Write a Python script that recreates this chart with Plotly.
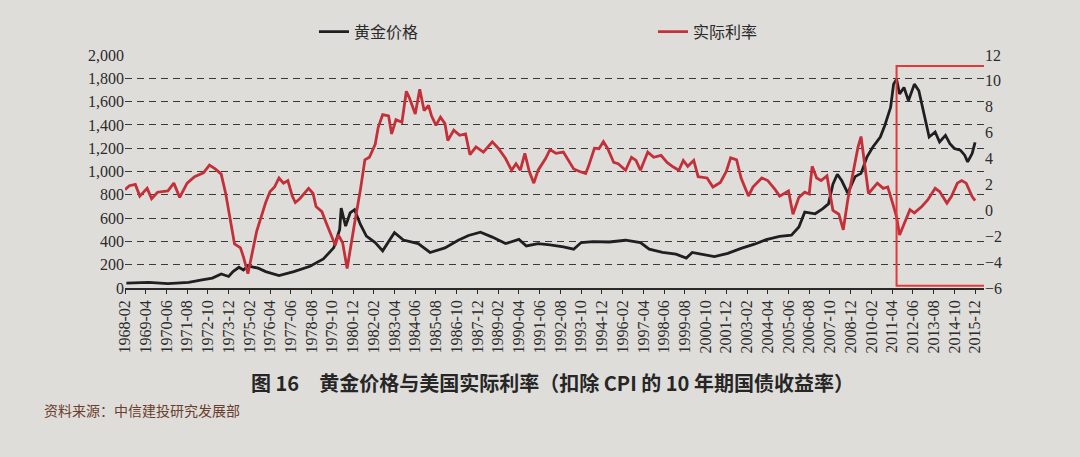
import plotly.graph_objects as go

# ---- data ----
gold_dates = ["1968-03","1969-06","1970-07","1971-09","1972-06","1973-01","1973-07","1973-12","1974-03","1974-07",
              "1974-10","1975-01","1975-08","1976-01","1976-10","1977-08","1978-07","1979-04","1979-11","1980-03",
              "1980-04","1980-07","1980-10","1981-01","1981-05","1981-09","1982-03","1982-08","1983-01","1983-04",
              "1983-10","1984-08","1985-04","1986-02","1986-11","1987-06","1988-02","1988-10","1989-07","1990-04",
              "1990-09","1991-05","1992-01","1992-10","1993-05","1993-10","1994-06","1995-05","1996-04","1997-02",
              "1997-08","1998-05","1999-02","1999-09","2000-01","2000-06","2001-04","2002-01","2002-10","2003-07",
              "2004-03","2004-12","2005-08","2006-01","2006-05","2006-12","2007-05","2007-09","2007-12","2008-03",
              "2008-06","2008-10","2009-03","2009-07","2009-11","2010-03","2010-08","2010-11","2011-03","2011-05",
              "2011-07","2011-09","2011-12","2012-03","2012-07","2012-10","2013-02","2013-05","2013-09","2013-12",
              "2014-04","2014-07","2014-10","2015-02","2015-05","2015-07","2015-10","2015-12"]
gold_price = [42, 48, 37, 48, 70, 85, 121, 99, 141, 178,
              155, 189, 170, 141, 107, 141, 186, 249, 347, 503,
              686, 531, 644, 672, 545, 446, 390, 319, 418, 475,
              412, 381, 305, 344, 409, 451, 479, 437, 381, 417,
              361, 381, 370, 353, 333, 390, 398, 395, 410, 390,
              333, 305, 291, 257, 305, 291, 269, 297, 340, 376,
              416, 444, 453, 524, 651, 637, 679, 722, 891, 976,
              920, 814, 956, 984, 1126, 1211, 1296, 1395, 1551, 1750,
              1792, 1665, 1721, 1608, 1750, 1693, 1466, 1296, 1339, 1253,
              1310, 1239, 1197, 1183, 1140, 1083, 1154, 1250]

rate_dates = ["1968-02","1968-05","1968-09","1968-12","1969-05","1969-08","1969-12","1970-07","1970-11","1971-03",
              "1971-08","1972-01","1972-07","1972-11","1973-03","1973-07","1973-10","1974-01","1974-04","1974-08",
              "1974-10","1975-01","1975-05","1975-07","1975-10","1976-01","1976-04","1976-07","1976-10","1977-01",
              "1977-04","1977-07","1977-09","1977-12","1978-06","1978-09","1978-11","1979-03","1979-06","1979-10",
              "1979-12","1980-02","1980-05","1980-08","1980-10","1981-01","1981-05","1981-08","1981-11","1982-03",
              "1982-05","1982-08","1982-12","1983-02","1983-05","1983-09","1983-12","1984-02","1984-06","1984-09",
              "1984-12","1985-03","1985-05","1985-08","1985-11","1986-02","1986-04","1986-08","1986-12","1987-04",
              "1987-07","1987-11","1988-04","1988-10","1989-02","1989-07","1989-11","1990-02","1990-05","1990-08",
              "1990-11","1991-02","1991-05","1991-10","1992-01","1992-05","1992-10","1993-01","1993-05","1993-09",
              "1994-01","1994-03","1994-07","1994-10","1995-01","1995-04","1995-08","1995-11","1996-04","1996-08",
              "1996-11","1997-02","1997-07","1997-11","1998-04","1998-08","1998-12","1999-04","1999-07","1999-10",
              "2000-02","2000-05","2000-11","2001-03","2001-08","2001-12","2002-03","2002-07","2002-10","2003-03",
              "2003-06","2003-12","2004-04","2004-09","2004-12","2005-06","2005-09","2006-01","2006-05","2006-08",
              "2006-10","2007-01","2007-04","2007-08","2007-10","2007-12","2008-04","2008-07","2008-10","2009-02",
              "2009-05","2009-07","2009-09","2009-12","2010-03","2010-06","2010-10","2011-01","2011-05","2011-07",
              "2011-09","2011-12","2012-04","2012-07","2012-12","2013-04","2013-09","2013-12","2014-05","2014-08",
              "2014-12","2015-03","2015-06","2015-10","2015-12"]
real_rate = [1.6, 1.9, 2.0, 1.1, 1.7, 0.9, 1.4, 1.5, 2.1, 1.0,
             2.1, 2.6, 2.9, 3.5, 3.2, 2.8, 1.3, -0.8, -2.6, -2.9,
             -3.6, -4.9, -2.8, -1.6, -0.5, 0.6, 1.45, 1.8, 2.5, 2.1,
             2.3, 1.1, 0.6, 0.9, 1.7, 1.3, 0.3, -0.1, -1.0, -2.1,
             -2.7, -1.9, -2.5, -4.5, -3.0, -1.0, 1.6, 3.9, 4.1, 5.1,
             6.4, 7.4, 7.3, 5.9, 7.0, 6.8, 9.2, 8.7, 7.45, 9.35,
             7.7, 8.1, 7.3, 6.56, 7.2, 6.7, 5.4, 6.2, 5.8, 5.9,
             4.3, 4.9, 4.5, 5.3, 4.8, 4.0, 3.1, 3.6, 3.1, 4.4,
             3.0, 2.1, 3.1, 4.0, 4.7, 4.4, 4.5, 3.9, 3.2, 3.0,
             2.85, 3.4, 4.8, 4.76, 5.3, 4.76, 3.7, 3.6, 3.1, 4.1,
             3.86, 3.1, 4.5, 4.1, 4.25, 3.7, 3.36, 3.1, 3.86, 3.4,
             3.86, 2.6, 2.5, 1.8, 2.15, 3.0, 4.06, 3.9, 2.5, 1.1,
             1.8, 2.5, 2.3, 1.6, 1.1, 1.5, -0.3, 1.0, 1.4, 1.26,
             3.4, 2.5, 2.3, 2.66, 1.26, 0.0, -0.3, -1.5, 0.8, 3.1,
             4.9, 5.7, 3.9, 1.3, 1.7, 2.1, 1.7, 1.8, 0.3, -0.5,
             -1.9, -1.1, 0.05, -0.2, 0.3, 0.8, 1.7, 1.45, 0.56, 1.07,
             2.1, 2.3, 2.1, 1.07, 0.75]

tick_labels = ["1968-02","1969-04","1970-06","1971-08","1972-10","1973-12","1975-02","1976-04","1977-06","1978-08",
               "1979-10","1980-12","1982-02","1983-04","1984-06","1985-08","1986-10","1987-12","1989-02","1990-04",
               "1991-06","1992-08","1993-10","1994-12","1996-02","1997-04","1998-06","1999-08","2000-10","2001-12",
               "2003-02","2004-04","2005-06","2006-08","2007-10","2008-12","2010-02","2011-04","2012-06","2013-08",
               "2014-10","2015-12"]
left_ticks = [0, 200, 400, 600, 800, 1000, 1200, 1400, 1600, 1800, 2000]
left_tick_text = ["0", "200", "400", "600", "800", "1,000", "1,200", "1,400", "1,600", "1,800", "2,000"]
right_ticks = [-6, -4, -2, 0, 2, 4, 6, 8, 10, 12]

series_names = ["黄金价格", "实际利率"]
caption = "图 16　黄金价格与美国实际利率（扣除 CPI 的 10 年期国债收益率）"
source = "资料来源：中信建投研究发展部"

BG = "#dfddda"
SERIF = "Liberation Serif"
CJK = "Noto Sans CJK SC"

fig = go.Figure()
fig.add_trace(go.Scatter(x=gold_dates, y=gold_price, name=series_names[0], mode="lines",
                         line=dict(color="#1f1f22", width=2.8)))
fig.add_trace(go.Scatter(x=rate_dates, y=real_rate, name=series_names[1], mode="lines", yaxis="y2",
                         line=dict(color="#c4303a", width=2.8)))

fig.update_layout(
    width=1080, height=457,
    margin=dict(l=125, r=96, t=55, b=169),
    paper_bgcolor=BG, plot_bgcolor=BG,
    font=dict(family=SERIF, size=16, color="#2b2b2b"),
    xaxis=dict(type="date", range=["1968-02-01", "2016-06-01"],
               tickvals=tick_labels, ticktext=tick_labels, tickangle=-90,
               showgrid=False, showline=True, linecolor="#2a2a2a", linewidth=1.5,
               ticks="outside", ticklen=4, tickcolor="#2a2a2a",
               tickfont=dict(family=SERIF, size=16, color="#2b2b2b"), zeroline=False),
    yaxis=dict(range=[0, 2000], tickvals=left_ticks, ticktext=left_tick_text,
               showgrid=True, gridcolor="#3a3a3a", gridwidth=1.4, griddash="7px,5px",
               zeroline=False, showline=False, ticks="",
               tickfont=dict(family=SERIF, size=16, color="#2b2b2b")),
    yaxis2=dict(range=[-6, 12], tickvals=right_ticks, overlaying="y", side="right",
                showgrid=False, zeroline=False, showline=False, ticks="",
                tickfont=dict(family=SERIF, size=16, color="#2b2b2b")),
    showlegend=True,
    legend=dict(orientation="h", x=0.22, xanchor="left", y=1.1, yanchor="middle",
                entrywidth=294, entrywidthmode="pixels", bgcolor="rgba(0,0,0,0)",
                font=dict(family=CJK, size=16, color="#2b2b2b")),
)

fig.add_shape(type="rect", xref="x", yref="y", x0="2011-07-01", x1="2016-10-01", y0=20, y1=1905,
              line=dict(color="#e23a3a", width=2), fillcolor="rgba(0,0,0,0)")

fig.add_annotation(text="<b>" + caption + "</b>", xref="paper", yref="paper", x=0.498, y=-0.405,
                   showarrow=False, font=dict(family=CJK, size=20, color="#262626"),
                   xanchor="center", yanchor="middle")
fig.add_annotation(text=source, xref="paper", yref="paper", x=-0.097, y=-0.525,
                   showarrow=False, font=dict(family=CJK, size=14, color="#6a3d2c"),
                   xanchor="left", yanchor="middle")

fig.write_html("out.html", config={"displayModeBar": False},
               post_script="document.body.style.margin='0';")
